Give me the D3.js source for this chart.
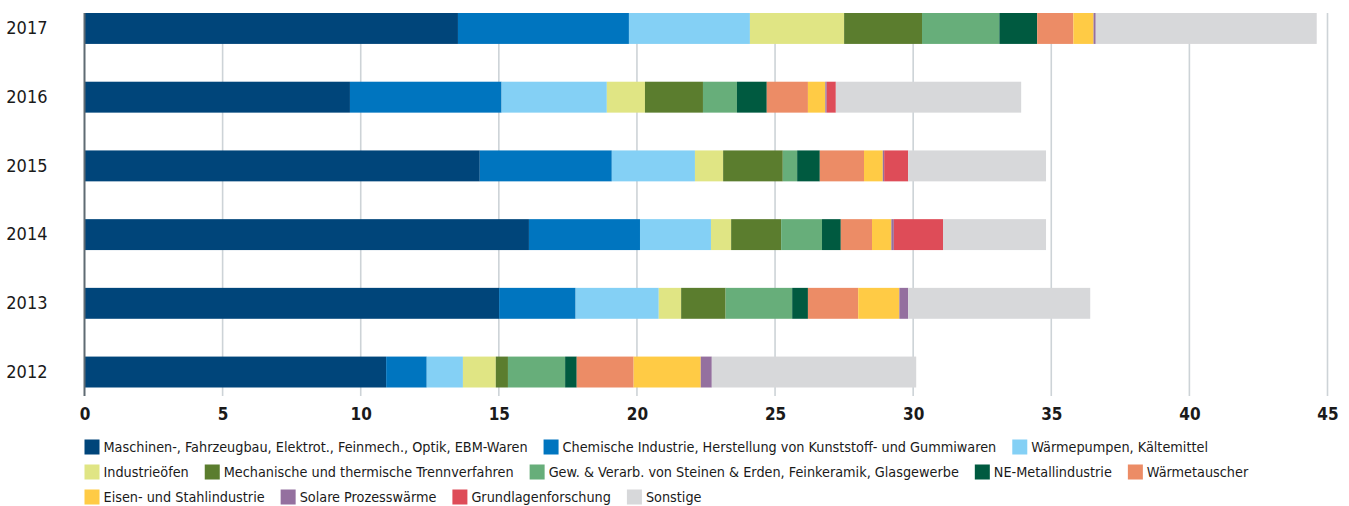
<!DOCTYPE html>
<html>
<head>
<meta charset="utf-8">
<script src="https://cdn.jsdelivr.net/npm/d3@7"></script>
<style>
  body { margin: 0; background: #fff; }
  text { font-family: "DejaVu Sans Condensed", "Liberation Sans Narrow", sans-serif; }
</style>
</head>
<body>
<div id="chart"></div>
<script>
// years, top to bottom
var years = ['2017', '2016', '2015', '2014', '2013', '2012']

var categories = [
  'Maschinen-, Fahrzeugbau, Elektrot., Feinmech., Optik, EBM-Waren',
  'Chemische Industrie, Herstellung von Kunststoff- und Gummiwaren',
  'Wärmepumpen, Kältemittel',
  'Industrieöfen',
  'Mechanische und thermische Trennverfahren',
  'Gew. & Verarb. von Steinen & Erden, Feinkeramik, Glasgewerbe',
  'NE-Metallindustrie',
  'Wärmetauscher',
  'Eisen- und Stahlindustrie',
  'Solare Prozesswärme',
  'Grundlagenforschung',
  'Sonstige'
]

var colors = ['#00457a', '#0075bf', '#84d0f5', '#e0e584', '#5b7d2e', '#67ae7a',
  '#005a40', '#ec8c66', '#ffcb45', '#94709f', '#de4c58', '#d7d8da']

// values per category, same order as years
var maschinen = [13.52, 9.61, 14.31, 16.09, 15.01, 10.92]
var chemie = [6.19, 5.49, 4.78, 4.02, 2.77, 1.47]
var waermepumpen = [4.38, 3.81, 3.01, 2.57, 3.01, 1.31]
var oefen = [3.41, 1.38, 1.02, 0.73, 0.81, 1.19]
var trennverfahren = [2.82, 2.10, 2.16, 1.81, 1.61, 0.44]
var steineErden = [2.80, 1.23, 0.52, 1.48, 2.41, 2.07]
var neMetall = [1.37, 1.08, 0.82, 0.68, 0.57, 0.42]
var waermetauscher = [1.31, 1.49, 1.60, 1.13, 1.82, 2.06]
var eisenStahl = [0.73, 0.63, 0.68, 0.70, 1.49, 2.43]
var solar = [0.08, 0.05, 0.05, 0.09, 0.32, 0.40]
var grundlagen = [0, 0.33, 0.87, 1.78, 0, 0]
var sonstige = [8.00, 6.71, 4.99, 3.73, 6.59, 7.40]

var series = [maschinen, chemie, waermepumpen, oefen, trennverfahren, steineErden,
  neMetall, waermetauscher, eisenStahl, solar, grundlagen, sonstige]

var xTicks = [0, 5, 10, 15, 20, 25, 30, 35, 40, 45]

// legend rows as in the original
var legendRows = [[0, 1, 2], [3, 4, 5, 6, 7], [8, 9, 10, 11]]

var width = 1349
var height = 506
var plotLeft = 84.5
var plotRight = 1327.5
var plotTop = 13
var barBottom = 387.5
var gridBottom = 396

var svg = d3.select('#chart').append('svg')
  .attr('width', width)
  .attr('height', height)

var x = d3.scaleLinear().domain([0, 45]).range([plotLeft, plotRight])
var y = d3.scaleBand().domain(years).range([plotTop, barBottom]).paddingInner(0.55).paddingOuter(0)

// gridlines
svg.append('g')
  .selectAll('line')
  .data(xTicks.slice(1))
  .enter().append('line')
  .attr('x1', function (d) { return x(d) })
  .attr('x2', function (d) { return x(d) })
  .attr('y1', plotTop)
  .attr('y2', gridBottom)
  .attr('stroke', '#cdd3d7')
  .attr('stroke-width', 1.6)

// stacked data
var rows = years.map(function (yr, i) {
  var r = { year: yr }
  categories.forEach(function (c, k) { r[c] = series[k][i] })
  return r
})
var stacked = d3.stack().keys(categories)(rows)

svg.append('g')
  .selectAll('g')
  .data(stacked)
  .enter().append('g')
  .attr('fill', function (d, k) { return colors[k] })
  .selectAll('rect')
  .data(function (d) { return d })
  .enter().append('rect')
  .attr('x', function (d) { return x(d[0]) })
  .attr('width', function (d) { return Math.max(0, x(d[1]) - x(d[0])) })
  .attr('y', function (d) { return y(d.data.year) })
  .attr('height', y.bandwidth())

// zero axis line
svg.append('line')
  .attr('x1', plotLeft).attr('x2', plotLeft)
  .attr('y1', plotTop).attr('y2', gridBottom)
  .attr('stroke', '#5f6b73')
  .attr('stroke-width', 2)

// year labels
svg.append('g')
  .attr('transform', 'translate(' + (plotLeft - 37) + ',0)')
  .call(d3.axisLeft(y).tickSize(0).tickPadding(0))
  .call(function (g) { g.select('.domain').remove() })
  .selectAll('text')
  .style('font-size', '18px')
  .attr('fill', '#1a1a1a')

// x tick labels
svg.append('g')
  .attr('transform', 'translate(0,' + (gridBottom + 8) + ')')
  .call(d3.axisBottom(x).tickValues(xTicks).tickSize(0).tickPadding(4))
  .call(function (g) { g.select('.domain').remove() })
  .selectAll('text')
  .style('font-size', '17px')
  .style('font-weight', 'bold')
  .attr('fill', '#1a1a1a')

// legend
var legend = svg.append('g')
legendRows.forEach(function (row, ri) {
  var cx = plotLeft
  var cy = 447 + ri * 25
  row.forEach(function (k) {
    var item = legend.append('g').attr('transform', 'translate(' + cx + ',' + cy + ')')
    item.append('rect')
      .attr('x', 0).attr('y', -7.5)
      .attr('width', 15).attr('height', 15)
      .attr('fill', colors[k])
    var t = item.append('text')
      .attr('x', 19).attr('y', 5)
      .style('font-size', '14.3px')
      .attr('fill', '#1a1a1a')
      .text(categories[k])
    cx += 19 + t.node().getComputedTextLength() + 16
  })
})
</script>
</body>
</html>
